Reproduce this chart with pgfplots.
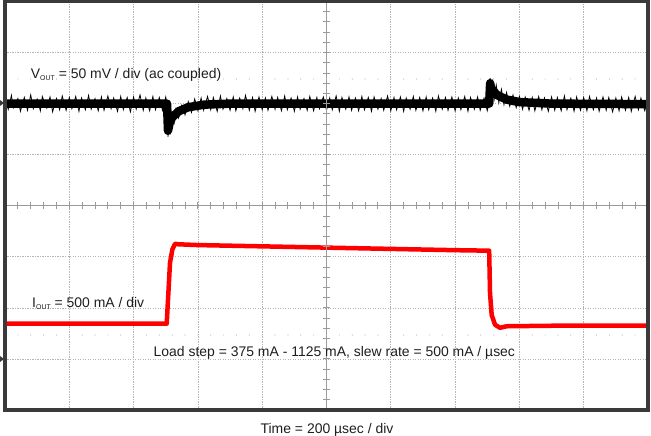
\documentclass[border=0pt]{standalone}
\usepackage{fontspec}
\setmainfont{Liberation Sans}
\usepackage{pgfplots}
\pgfplotsset{compat=1.18}

\definecolor{framegray}{HTML}{3A3A3A}
\definecolor{gridgray}{HTML}{B4B4B4}
\definecolor{crossgray}{HTML}{9A9A9A}
\definecolor{scopered}{HTML}{FF0000}
\definecolor{textgray}{HTML}{1E1E1E}

\newcommand{\sub}[1]{{\fontsize{7}{7}\selectfont\raisebox{-1.2bp}{#1}}}

\begin{document}
\begin{tikzpicture}[font=\fontsize{14}{16}\selectfont]
\begin{axis}[
    scale only axis,
    width=643bp, height=408.5bp,
    xmin=0, xmax=10, ymin=0, ymax=8,
    xtick={0,...,10}, ytick={0,...,8},
    xticklabels={}, yticklabels={},
    major tick length=0pt,
    grid=major,
    grid style={gridgray, line width=0.7bp, dash pattern=on 1.2bp off 1.3bp},
    axis line style={draw=none},
]
% V_OUT, jagged noise band
\addplot[black, line width=0.8bp] coordinates {
(0.00,6.13) (0.05,5.89) (0.10,6.16) (0.13,5.92) (0.20,6.10) (0.24,5.85) (0.30,6.12) (0.35,5.87) (0.40,6.17) (0.44,5.90)
(0.50,6.09) (0.55,5.86) (0.58,6.14) (0.65,5.91) (0.70,6.13) (0.74,5.84) (0.80,6.10) (0.85,5.88) (0.89,6.15) (0.95,5.87)
(1.00,6.12) (1.04,5.90) (1.10,6.14) (1.15,5.85) (1.19,6.11) (1.25,5.88) (1.30,6.16) (1.34,5.89) (1.40,6.10) (1.45,5.86)
(1.50,6.13) (1.54,5.87) (1.60,6.15) (1.65,5.90) (1.69,6.11) (1.75,5.85) (1.80,6.14) (1.84,5.88) (1.90,6.12) (1.95,5.84)
(2.00,6.13) (2.04,5.89) (2.10,6.17) (2.15,5.87) (2.19,6.11) (2.25,5.86) (2.30,6.14) (2.34,5.88) (2.40,6.12) (2.45,5.87)
(2.50,6.13) (2.53,5.92) (2.535,5.35) (2.55,5.62) (2.57,5.45) (2.60,5.80) (2.63,5.62) (2.66,5.90) (2.70,5.72) (2.75,5.97)
(2.80,5.78) (2.85,6.04) (2.90,5.83) (2.95,6.09) (3.00,5.86)
(3.05,6.11) (3.09,5.87) (3.15,6.14) (3.20,5.88) (3.24,6.12) (3.30,5.85) (3.35,6.15) (3.39,5.89) (3.45,6.10) (3.50,5.87)
(3.55,6.13) (3.59,5.86) (3.65,6.11) (3.70,5.90) (3.74,6.16) (3.80,5.87) (3.85,6.12) (3.89,5.85) (3.95,6.13) (4.00,5.88)
(4.05,6.11) (4.09,5.87) (4.15,6.14) (4.20,5.89) (4.24,6.12) (4.30,5.86) (4.35,6.15) (4.39,5.88) (4.45,6.11) (4.50,5.85)
(4.55,6.13) (4.59,5.89) (4.65,6.10) (4.70,5.87) (4.74,6.14) (4.80,5.86) (4.85,6.12) (4.89,5.90) (4.95,6.13) (5.00,5.87)
(5.05,6.11) (5.09,5.88) (5.15,6.15) (5.20,5.85) (5.24,6.12) (5.30,5.89) (5.35,6.13) (5.39,5.87) (5.45,6.11) (5.50,5.86)
(5.55,6.14) (5.59,5.88) (5.65,6.12) (5.70,5.85) (5.74,6.13) (5.80,5.89) (5.85,6.10) (5.89,5.87) (5.95,6.15) (6.00,5.86)
(6.05,6.12) (6.09,5.88) (6.15,6.13) (6.20,5.85) (6.24,6.11) (6.30,5.89) (6.35,6.14) (6.39,5.87) (6.45,6.12) (6.50,5.86)
(6.55,6.13) (6.59,5.88) (6.65,6.11) (6.70,5.85) (6.74,6.15) (6.80,5.89) (6.85,6.12) (6.89,5.87) (6.95,6.13) (7.00,5.86)
(7.05,6.11) (7.09,5.88) (7.15,6.14) (7.20,5.85) (7.24,6.12) (7.30,5.89) (7.35,6.13) (7.39,5.87) (7.45,6.11) (7.50,5.86)
(7.535,6.05) (7.545,6.50) (7.56,6.20) (7.58,6.42) (7.61,6.10) (7.64,6.36) (7.68,6.02) (7.72,6.28) (7.76,5.98) (7.80,6.22)
(7.85,5.95) (7.90,6.17) (7.95,5.92) (8.00,6.14)
(8.05,5.89) (8.09,6.13) (8.15,5.87) (8.20,6.12) (8.24,5.86) (8.30,6.14) (8.35,5.88) (8.39,6.11) (8.45,5.85) (8.50,6.13)
(8.55,5.87) (8.59,6.12) (8.65,5.86) (8.70,6.15) (8.74,5.88) (8.80,6.11) (8.85,5.85) (8.89,6.13) (8.95,5.87) (9.00,6.12)
(9.05,5.86) (9.09,6.14) (9.15,5.88) (9.20,6.11) (9.24,5.85) (9.30,6.13) (9.35,5.87) (9.39,6.12) (9.45,5.84) (9.50,6.11)
(9.55,5.86) (9.59,6.13) (9.65,5.87) (9.70,6.12) (9.74,5.85) (9.80,6.14) (9.85,5.88) (9.89,6.11) (9.95,5.86) (10.00,6.10)
};
% V_OUT, dense core
\addplot[black, line width=8.5bp, line join=round] coordinates {
(0,6.0) (2.52,6.0) (2.535,5.47) (2.56,5.62) (2.6,5.73) (2.7,5.85) (2.85,5.93) (3.1,5.98) (3.5,6.0)
(7.53,6.0) (7.545,6.40) (7.56,6.3) (7.65,6.17) (7.8,6.08) (8.0,6.03) (8.5,6.0) (10,5.99)
};
% I_OUT
\addplot[scopered, line width=4.5bp, line join=round] coordinates {
(0,1.69) (2.515,1.69) (2.566,2.88) (2.602,3.14) (2.644,3.255) (2.7,3.245) (3.0,3.23) (5.0,3.18) (7.0,3.13)
(7.53,3.12) (7.543,2.29) (7.569,1.86) (7.621,1.67) (7.698,1.61) (7.8,1.64) (8.5,1.65) (10,1.65)
};
\end{axis}
% centre cross with minor ticks
\draw[crossgray, line width=0.9bp] (321.5bp,0) -- (321.5bp,408.5bp);
\draw[crossgray, line width=0.9bp] (0,204.25bp) -- (643bp,204.25bp);
\foreach \k in {1,...,49} {
  \draw[crossgray, line width=0.9bp] (\k*12.86bp,200.5bp) -- (\k*12.86bp,208bp);
}
\foreach \k in {1,...,39} {
  \draw[crossgray, line width=0.9bp] (318bp,\k*10.2125bp) -- (325bp,\k*10.2125bp);
}
% sparse dot rows
\foreach \k in {1,...,49} {
  \fill[gridgray] (\k*12.86bp,331bp) circle (0.6bp);
  \fill[gridgray] (\k*12.86bp,75bp) circle (0.6bp);
}
% frame
\draw[framegray, line width=4bp] (0,0) rectangle (643bp,408.5bp);
% channel markers
\fill[framegray] (-5bp,310bp) -- (-1bp,307bp) -- (-5bp,304bp) -- cycle;
\fill[framegray] (-5bp,54bp) -- (-1bp,51bp) -- (-5bp,48bp) -- cycle;
% texts
\begin{scope}[textgray]
\node[anchor=base west, inner sep=0] at (25.7bp,331bp) {V\sub{OUT} = 50 mV / div (ac coupled)};
\node[anchor=base west, inner sep=0] at (27bp,102bp) {I\sub{OUT} = 500 mA / div};
\node[anchor=base west, inner sep=0] at (148.5bp,53.3bp) {Load step = 375 mA - 1125 mA, slew rate = 500 mA / µsec};
\node[anchor=base, inner sep=0] at (322bp,-23bp) {Time = 200 µsec / div};
\end{scope}
\pgfresetboundingbox
\useasboundingbox (-5bp,-26bp) rectangle (646bp,410bp);
\end{tikzpicture}
\end{document}
